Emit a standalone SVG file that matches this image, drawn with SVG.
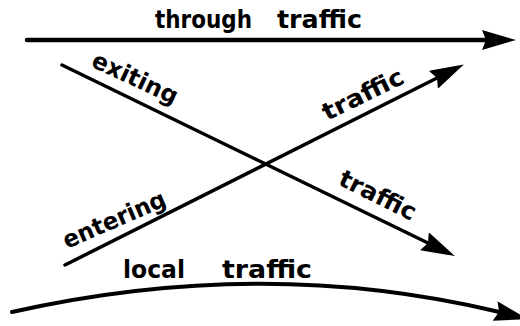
<svg xmlns="http://www.w3.org/2000/svg" width="520" height="326" viewBox="0 0 520 326">
<style>
.ln{fill:none;stroke:#000;stroke-linecap:round}
.lb{font-family:"DejaVu Sans","Liberation Sans",sans-serif;font-weight:bold;font-size:24px;fill:#000}
</style>
<defs>
<marker id="ah" viewBox="0 0 34 20" markerUnits="userSpaceOnUse" markerWidth="34" markerHeight="20" refX="4" refY="10" orient="auto">
<path d="M0,0 L34,10 L0,20 L4,10 Z" fill="#000"/>
</marker>
</defs>
<rect width="520" height="326" fill="#fff"/>
<g id="connectors">
<path id="through" class="ln" stroke-width="4.5" d="M27,40 L486,40" marker-end="url(#ah)"/>
<path id="exiting" class="ln" stroke-width="3.5" d="M62,65 L428,243" marker-end="url(#ah)"/>
<path id="entering" class="ln" stroke-width="3.5" d="M65,265 L437,78" marker-end="url(#ah)"/>
<path id="local" class="ln" stroke-width="4" d="M12,312 Q262,256 495,311 L499,312" marker-end="url(#ah)"/>
</g>
<g id="label-through">
<text class="lb" y="27.5"><tspan x="155" textLength="97" lengthAdjust="spacingAndGlyphs">through</tspan><tspan x="277" textLength="85" lengthAdjust="spacingAndGlyphs">traffic</tspan></text>
</g>
<g id="label-exiting">
<text class="lb" transform="translate(90,66) rotate(25)" textLength="92" lengthAdjust="spacingAndGlyphs">exiting</text>
</g>
<g id="label-entering-traffic">
<text class="lb" transform="translate(327,121) rotate(-26)" textLength="88" lengthAdjust="spacingAndGlyphs">traffic</text>
</g>
<g id="label-entering">
<text class="lb" transform="translate(67,249) rotate(-23.5)" textLength="110" lengthAdjust="spacingAndGlyphs">entering</text>
</g>
<g id="label-exiting-traffic">
<text class="lb" transform="translate(337,184) rotate(26.5)" textLength="83" lengthAdjust="spacingAndGlyphs">traffic</text>
</g>
<g id="label-local">
<text class="lb" y="278"><tspan x="123" textLength="62" lengthAdjust="spacingAndGlyphs">local</tspan><tspan x="222" textLength="90" lengthAdjust="spacingAndGlyphs">traffic</tspan></text>
</g>
</svg>
